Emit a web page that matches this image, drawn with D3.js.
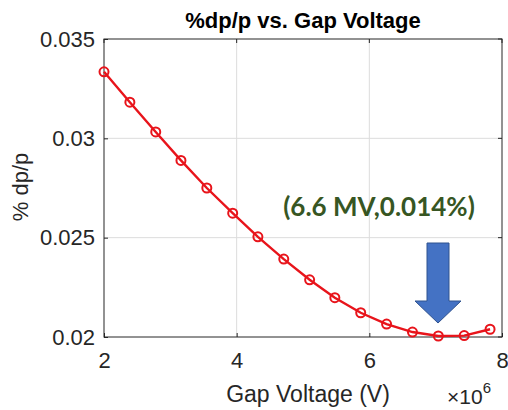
<!DOCTYPE html>
<html>
<head>
<meta charset="utf-8">
<script src="https://d3js.org/d3.v7.min.js"></script>
<style>
  body { margin: 0; background: #fff; }
  .tick text { font-family: "Liberation Sans", Arial, sans-serif; fill: #262626; }
</style>
</head>
<body>
<script>
// gap voltage (V) and %dp/p
var voltage = [2.0e6, 2.39e6, 2.78e6, 3.16e6, 3.55e6, 3.94e6, 4.32e6, 4.71e6,
               5.10e6, 5.48e6, 5.87e6, 6.26e6, 6.65e6, 7.04e6, 7.43e6, 7.82e6];
var dpp = [0.03335, 0.03182, 0.03032, 0.02889, 0.0275, 0.02623, 0.02504, 0.02392,
           0.02288, 0.02198, 0.02122, 0.02065, 0.02025, 0.02005, 0.02007, 0.02039];
var xTicks = [2e6, 4e6, 6e6, 8e6];
var yTicks = [0.02, 0.025, 0.03, 0.035];

var W = 508, H = 410;
var plotL = 104, plotR = 502, plotT = 39, plotB = 337;

var svg = d3.select("body").append("svg")
    .attr("width", W).attr("height", H);

var x = d3.scaleLinear().domain([2e6, 8e6]).range([plotL, plotR]);
var y = d3.scaleLinear().domain([0.02, 0.035]).range([plotB, plotT]);

// grid
svg.append("g").selectAll("line").data(xTicks.slice(1, -1)).join("line")
    .attr("x1", d => x(d)).attr("x2", d => x(d))
    .attr("y1", plotT).attr("y2", plotB)
    .attr("stroke", "#dcdcdc").attr("stroke-width", 1);
svg.append("g").selectAll("line").data(yTicks.slice(1, -1)).join("line")
    .attr("y1", d => y(d)).attr("y2", d => y(d))
    .attr("x1", plotL).attr("x2", plotR)
    .attr("stroke", "#dcdcdc").attr("stroke-width", 1);

// axes
var xAxis = svg.append("g")
    .attr("transform", "translate(0," + plotB + ")")
    .call(d3.axisBottom(x).tickValues(xTicks).tickFormat(d => d / 1e6)
          .tickSizeInner(-4).tickSizeOuter(0).tickPadding(15));
var yAxis = svg.append("g")
    .attr("transform", "translate(" + plotL + ",0)")
    .call(d3.axisLeft(y).tickValues(yTicks).tickFormat(d3.format(".3~f"))
          .tickSizeInner(-4).tickSizeOuter(0).tickPadding(9));
[xAxis, yAxis].forEach(function(g) {
  g.select(".domain").remove();
  g.selectAll(".tick line").attr("stroke", "#262626");
  g.selectAll(".tick text").style("font-size", "22px");
});
xAxis.selectAll(".tick text").attr("dy", "0.71em");

// mirrored ticks on top / right
svg.append("g").selectAll("line").data(xTicks).join("line")
    .attr("x1", d => x(d)).attr("x2", d => x(d))
    .attr("y1", plotT).attr("y2", plotT + 4).attr("stroke", "#262626");
svg.append("g").selectAll("line").data(yTicks).join("line")
    .attr("y1", d => y(d)).attr("y2", d => y(d))
    .attr("x1", plotR - 4).attr("x2", plotR).attr("stroke", "#262626");

// box
svg.append("rect")
    .attr("x", plotL).attr("y", plotT)
    .attr("width", plotR - plotL).attr("height", plotB - plotT)
    .attr("fill", "none").attr("stroke", "#262626").attr("stroke-width", 1);

// series
var pts = voltage.map((v, i) => [v, dpp[i]]);
svg.append("path")
    .datum(pts)
    .attr("fill", "none")
    .attr("stroke", "#e8141b")
    .attr("stroke-width", 2.4)
    .attr("d", d3.line().x(d => x(d[0])).y(d => y(d[1])));
svg.append("g").selectAll("circle").data(pts).join("circle")
    .attr("cx", d => x(d[0])).attr("cy", d => y(d[1]))
    .attr("r", 4.5)
    .attr("fill", "none")
    .attr("stroke", "#e8141b")
    .attr("stroke-width", 2);

// title and labels
svg.append("text")
    .attr("x", 303).attr("y", 28)
    .attr("text-anchor", "middle")
    .style("font-family", "Liberation Sans, Arial, sans-serif")
    .style("font-weight", "bold").style("font-size", "22px")
    .text("%dp/p vs. Gap Voltage");
svg.append("text")
    .attr("transform", "translate(28,187) rotate(-90)")
    .attr("text-anchor", "middle")
    .style("font-family", "Liberation Sans, Arial, sans-serif")
    .style("font-size", "22px").attr("fill", "#262626")
    .text("% dp/p");
svg.append("text")
    .attr("x", 308).attr("y", 402)
    .attr("text-anchor", "middle")
    .style("font-family", "Liberation Sans, Arial, sans-serif")
    .style("font-size", "23px").attr("fill", "#262626")
    .text("Gap Voltage (V)");
var mult = svg.append("text")
    .attr("x", 447).attr("y", 404)
    .style("font-family", "Liberation Sans, Arial, sans-serif")
    .style("font-size", "21px").attr("fill", "#262626");
mult.append("tspan").text("\u00d710");
mult.append("tspan").attr("dy", -11).style("font-size", "15px").text("6");

// annotation
svg.append("text")
    .attr("x", 379).attr("y", 216)
    .attr("text-anchor", "middle")
    .style("font-family", "Lato, sans-serif")
    .style("font-weight", "bold").style("font-size", "26px")
    .attr("fill", "#375623")
    .text("(6.6 MV,0.014%)");

// arrow
var ax = 438, aTop = 243, aNeck = 301, aTip = 323;
svg.append("path")
    .attr("d", "M" + (ax - 11) + "," + aTop + "H" + (ax + 11) + "V" + aNeck +
               "H" + (ax + 23) + "L" + ax + "," + aTip + "L" + (ax - 23) + "," + aNeck +
               "H" + (ax - 11) + "Z")
    .attr("fill", "#4472c4")
    .attr("stroke", "#2f528f")
    .attr("stroke-width", 1);
</script>
</body>
</html>
